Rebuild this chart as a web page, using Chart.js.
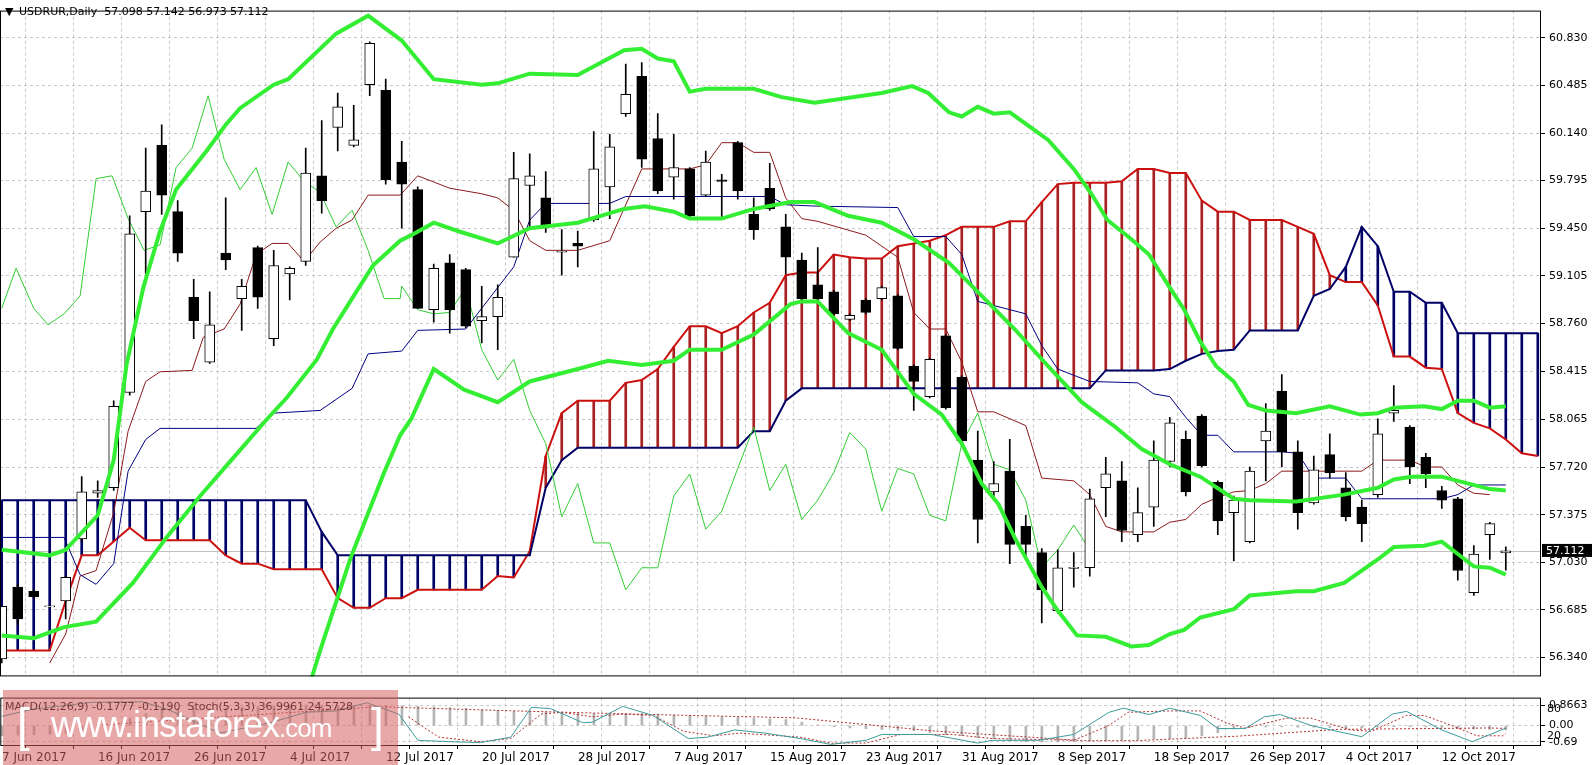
<!DOCTYPE html>
<html>
<head>
<meta charset="utf-8">
<script src="https://cdn.jsdelivr.net/npm/chart.js@4.4.1/dist/chart.umd.min.js"></script>
<style>
  body { margin: 0; background: #fff; width: 1593px; height: 765px; overflow: hidden; position: relative; font-family: "DejaVu Sans", sans-serif; }
  #main { position: absolute; left: 0; top: 0; }
  #sub { position: absolute; left: 0; top: 687px; }
  .wm { position: absolute; left: 3px; top: 690px; width: 395px; height: 75px; background: rgba(214, 96, 96, 0.55);
        color: #fff; font-family: "Liberation Sans", sans-serif; white-space: nowrap; }
  .wm span { position: absolute; }
</style>
</head>
<body>
<canvas id="main" width="1593" height="687"></canvas>
<canvas id="sub" width="1593" height="78"></canvas>
<div class="wm">
  <span style="left:14px;top:8px;font-size:46px;font-weight:100;">[</span>
  <span style="left:48px;top:14px;font-size:36px;letter-spacing:-1px;">www.instaforex<span style="position:static;font-size:26px;">.com</span></span>
  <span style="left:368px;top:8px;font-size:46px;">]</span>
</div>
<script>
/* ========================================
   USDRUR daily: candles, Bollinger, Ichimoku, MACD + Stoch
   ======================================== */

// ---- data (bar index 0 = 7 Jun 2017, one bar per trading day) ----
const dateLabels = ['7 Jun 2017', '16 Jun 2017', '26 Jun 2017', '4 Jul 2017', '12 Jul 2017', '20 Jul 2017',
    '28 Jul 2017', '7 Aug 2017', '15 Aug 2017', '23 Aug 2017', '31 Aug 2017', '8 Sep 2017',
    '18 Sep 2017', '26 Sep 2017', '4 Oct 2017', '12 Oct 2017'];   // every 6 bars

const priceTicks = [56.340, 56.685, 57.030, 57.375, 57.720, 58.065, 58.415, 58.760, 59.105, 59.450, 59.795, 60.140, 60.485, 60.830];

const opens = [56.33,56.85,56.82,56.71,56.75,57.20,57.53,57.57,58.26,59.57,60.05,59.57,58.95,58.48,59.27,58.94,59.31,58.65,59.12,59.21,
    59.83,60.18,60.05,60.49,60.45,59.93,59.73,58.86,59.20,59.15,58.78,58.81,59.24,59.76,59.67,59.28,59.34,59.51,59.75,60.28,
    60.55,60.10,59.82,59.88,59.69,59.80,60.07,59.55,59.74,59.46,59.22,59.04,58.99,58.79,58.93,58.94,58.96,58.45,58.23,58.67,
    58.37,57.77,57.54,57.69,57.29,57.10,56.68,56.99,56.99,57.57,57.62,57.23,57.43,57.76,57.92,58.09,57.61,57.39,57.18,57.91,
    58.27,57.83,57.46,57.81,57.57,57.43,57.52,58.11,58.01,57.79,57.55,57.49,56.81,57.23,57.098];
const highs = [56.71,56.87,56.83,56.72,56.93,57.65,57.62,58.20,59.54,60.03,60.20,59.65,59.08,58.99,59.67,59.08,59.32,59.29,59.17,60.03,
    60.23,60.43,60.34,60.80,60.53,60.08,59.75,59.19,59.26,59.16,59.03,59.04,60.00,59.99,59.86,59.44,59.43,60.15,60.13,60.64,
    60.65,60.28,60.13,59.89,60.01,59.84,60.08,59.67,59.92,59.55,59.27,59.31,59.00,58.83,58.94,59.03,58.97,58.46,58.51,58.68,
    58.38,57.98,57.76,57.92,57.37,57.13,57.12,57.10,57.56,57.79,57.76,57.57,57.91,58.08,57.98,58.10,57.62,57.51,57.72,58.18,
    58.39,57.91,57.80,57.96,57.68,57.48,58.07,58.31,58.02,57.82,57.58,57.50,57.15,57.32,57.142];
const lows = [56.30,56.58,56.77,56.70,56.62,57.18,57.50,57.55,58.24,59.12,59.55,59.21,58.65,58.47,59.15,58.71,58.87,58.60,58.93,59.18,
    59.56,60.01,60.04,60.41,59.77,59.45,58.87,58.77,58.69,58.73,58.62,58.57,59.24,59.45,59.42,59.11,59.17,59.50,59.52,60.26,
    59.89,59.70,59.66,59.53,59.68,59.53,59.66,59.37,59.58,59.12,58.93,58.93,58.82,58.78,58.83,58.93,58.57,58.13,58.22,58.14,
    57.90,57.17,57.48,57.02,57.05,56.59,56.66,56.85,56.93,57.36,57.18,57.18,57.29,57.72,57.51,57.72,57.23,57.04,57.17,57.62,
    57.72,57.27,57.45,57.64,57.33,57.18,57.50,58.05,57.60,57.57,57.42,56.90,56.79,57.05,56.973];
const closes = [56.71,56.62,56.78,56.71,56.92,57.54,57.55,58.16,59.41,59.72,59.69,59.27,58.78,58.75,59.22,59.03,58.95,59.18,59.16,59.85,
    59.65,60.33,60.09,60.79,59.80,59.77,58.87,59.16,58.86,58.74,58.81,58.95,59.81,59.83,59.47,59.28,59.32,59.88,60.04,60.42,
    59.95,59.72,59.89,59.54,59.93,59.79,59.72,59.44,59.59,59.24,58.94,58.94,58.83,58.82,58.84,59.02,58.58,58.34,58.50,58.15,
    57.91,57.34,57.60,57.16,57.16,56.83,56.99,56.99,57.49,57.67,57.26,57.39,57.77,58.04,57.54,57.73,57.33,57.48,57.69,57.98,
    57.83,57.39,57.70,57.68,57.36,57.31,57.96,58.13,57.72,57.67,57.48,56.97,57.09,57.31,57.112];

// Bollinger bands, read as [bar, price] vertices
const bbUpper = [[0,57.12],[3,57.08],[4,57.12],[6,57.37],[7,57.77],[7.8,58.46],[8.85,59.02],[9.9,59.43],[10.9,59.73],[12.8,60.01],
    [14,60.20],[14.9,60.32],[17,60.49],[17.9,60.53],[20.9,60.86],[22.9,60.99],[25,60.81],[27,60.53],[30,60.49],[31,60.50],
    [33,60.57],[36,60.56],[38.9,60.74],[40,60.75],[41,60.68],[42,60.66],[43,60.44],[44,60.46],[47,60.46],[48.75,60.40],
    [50.8,60.36],[55,60.43],[56.9,60.48],[57.9,60.43],[59.2,60.29],[60,60.26],[61,60.33],[62,60.28],[63,60.29],[64.2,60.19],
    [65.4,60.09],[67,59.88],[68.1,59.70],[69.1,59.51],[70.6,59.37],[71.7,59.26],[73,59.02],[73.9,58.86],[74.9,58.63],[75.9,58.45],
    [77,58.34],[77.9,58.17],[79,58.13],[80.9,58.11],[83,58.16],[84.9,58.10],[86,58.11],[87,58.15],[88.9,58.16],[90,58.14],
    [91,58.20],[92,58.20],[93,58.15],[94,58.16]];
const bbMiddle = [[0,56.50],[2,56.48],[3.9,56.56],[5.9,56.60],[8.2,56.88],[10.3,57.21],[12.4,57.51],[14.5,57.79],[16.6,58.07],[17.8,58.22],
    [19.7,58.50],[20.7,58.72],[22,58.96],[23.2,59.18],[24.9,59.36],[25.6,59.40],[27,59.49],[28.5,59.43],[31,59.34],[33,59.45],
    [36,59.49],[38.9,59.59],[40.2,59.61],[42,59.57],[43,59.52],[45,59.52],[47,59.59],[49.3,59.64],[50.8,59.64],[52.9,59.54],
    [55,59.49],[57,59.37],[59.2,59.20],[61.25,58.96],[63.3,58.72],[65.4,58.45],[67.5,58.19],[69.6,58.01],[71.25,57.85],[73,57.74],
    [74.9,57.65],[77,57.49],[78,57.48],[80.9,57.47],[83.9,57.52],[86,57.57],[87,57.63],[88.1,57.65],[90,57.65],[91,57.62],
    [93,57.56],[94,57.55]];
const bbLower = [[18.6,55.90],[19.9,56.39],[21.8,57.06],[23.9,57.68],[24.9,57.95],[25.6,58.07],[27,58.43],[28.9,58.28],[31,58.19],[33,58.34],
    [36,58.43],[37.9,58.49],[40,58.46],[42,58.49],[43,58.57],[45,58.57],[47,58.68],[49.3,58.90],[50,58.92],[51,58.92],
    [52.9,58.69],[55,58.57],[57,58.25],[58.75,58.10],[60,57.89],[61.25,57.60],[62.3,57.45],[63.3,57.21],[65,56.85],[66,56.68],
    [67.2,56.50],[69,56.49],[70.6,56.42],[71.7,56.43],[73,56.51],[73.9,56.54],[74.9,56.63],[77,56.69],[78,56.79],[80.9,56.82],
    [82,56.82],[83.9,56.88],[86,57.05],[87,57.14],[88.9,57.15],[90,57.18],[91,57.09],[92,57.00],[93,56.99],[94,56.94]];

// Ichimoku
const tenkan = [[3,56.30],[4,56.51],[4.9,56.93],[5.9,56.97],[7,57.39],[7.9,57.98],[9,58.34],[9.9,58.41],[11.9,58.42],[12.6,58.66],
    [13.9,58.72],[14.9,58.90],[15.9,59.26],[16.9,59.34],[17.9,59.34],[18.9,59.21],[19.9,59.35],[20.9,59.45],[21.9,59.51],[22.9,59.69],
    [24.9,59.69],[26,59.83],[28,59.74],[30,59.70],[31,59.67],[32,59.58],[33,59.36],[34,59.29],[36,59.29],[38,59.36],
    [40,59.88],[43,59.88],[44,59.91],[45,60.07],[46,60.07],[47,60.00],[48,60.00],[49,59.67],[50,59.52],[51,59.50],
    [54,59.40],[56,59.24],[57,58.84],[58,58.72],[59,58.72],[60,58.48],[61,58.12],[62,58.12],[64,58.02],[65,57.64],
    [67,57.62],[68,57.52],[69,57.29],[70,57.25],[72,57.25],[73,57.32],[74,57.34],[75,57.45],[76,57.50],[77,57.54],
    [78,57.55],[79,57.60],[80,57.69],[85,57.69],[86,57.77],[88,57.77],[89,57.72],[90,57.72],[91,57.59],[92,57.53],[93,57.52]];
const kijun = [[0,57.21],[3.9,57.21],[4.9,56.94],[5.9,56.87],[7,57.02],[7.9,57.69],[9,57.92],[9.9,58.00],[15.9,58.00],[16.9,58.11],
    [19.9,58.13],[21.9,58.29],[22.9,58.54],[25,58.56],[26,58.71],[29,58.72],[31,59.02],[32,59.17],[33,59.51],[34,59.63],
    [38,59.63],[39,59.68],[48,59.68],[49,59.62],[51,59.61],[56,59.60],[57,59.39],[59,59.39],[60,59.26],[61,58.92],
    [64,58.83],[65,58.60],[66,58.43],[68,58.34],[71,58.33],[72,58.25],[73,58.23],[74,58.08],[75,57.95],[76,57.95],
    [77,57.83],[80,57.83],[81,57.82],[82,57.64],[84,57.64],[85,57.49],[90,57.49],[91,57.52],[92,57.59],[94,57.59]];
const chikou = [[0,58.87],[0.9,59.16],[2,58.87],[2.9,58.75],[3.9,58.83],[4.9,58.96],[5.9,59.81],[6.9,59.83],[7.9,59.52],[8.9,59.29],
    [9.9,59.33],[10.9,59.89],[11.9,60.03],[12.9,60.41],[13.9,59.95],[14.9,59.73],[15.9,59.89],[16.9,59.55],[17.9,59.93],[18.9,59.79],
    [19.9,59.71],[20.9,59.46],[21.9,59.58],[22.9,59.29],[23.9,58.94],[24.9,58.94],[25,59.03],[26,58.86],[27,58.83],[28,58.84],
    [29,59.02],[30,58.57],[31,58.35],[32,58.50],[33,58.13],[34,57.89],[35,57.36],[36,57.60],[37,57.17],[38,57.17],
    [39,56.83],[40,56.99],[41,56.99],[42,57.51],[43,57.67],[44,57.27],[45,57.40],[46,57.71],[47,58.01],[48,57.55],
    [49,57.74],[50,57.34],[51,57.48],[52,57.68],[53,57.97],[54,57.85],[55,57.40],[56,57.71],[57,57.67],[58,57.37],
    [59,57.33],[60,57.89],[61,58.11],[62,57.74],[63,57.70],[64,57.48],[65,56.99],[66,57.12],[67,57.30],[68,57.12]];
const spanA = [56.39,56.39,56.39,56.39,56.75,57.08,57.08,57.18,57.28,57.19,57.19,57.19,57.19,57.19,57.08,57.02,57.02,56.98,56.98,56.98,
    56.98,56.77,56.70,56.70,56.77,56.77,56.83,56.83,56.83,56.83,56.83,56.93,56.92,57.11,57.80,58.11,58.20,58.20,58.20,58.33,
    58.35,58.43,58.59,58.74,58.74,58.69,58.74,58.84,58.91,59.11,59.13,59.13,59.26,59.24,59.23,59.23,59.32,59.34,59.36,59.40,
    59.46,59.46,59.46,59.50,59.50,59.64,59.77,59.78,59.78,59.78,59.79,59.88,59.88,59.85,59.85,59.65,59.57,59.57,59.51,59.51,
    59.51,59.46,59.41,59.11,59.06,59.06,58.89,58.52,58.52,58.44,58.43,58.11,58.04,58.00,57.92,57.82,57.80];
const spanB = [57.48,57.48,57.48,57.48,57.48,57.48,57.48,57.48,57.48,57.48,57.48,57.48,57.48,57.48,57.48,57.48,57.48,57.48,57.48,57.48,
    57.25,57.08,57.08,57.08,57.08,57.08,57.08,57.08,57.08,57.08,57.08,57.08,57.08,57.08,57.57,57.77,57.86,57.86,57.86,57.86,
    57.86,57.86,57.86,57.86,57.86,57.86,57.86,57.98,57.98,58.20,58.29,58.29,58.29,58.29,58.29,58.29,58.29,58.29,58.29,58.29,
    58.29,58.29,58.29,58.29,58.29,58.29,58.29,58.29,58.29,58.42,58.42,58.42,58.42,58.43,58.49,58.54,58.56,58.57,58.71,58.71,
    58.71,58.71,58.96,59.01,59.17,59.46,59.32,58.99,58.99,58.91,58.91,58.69,58.69,58.69,58.69,58.69,58.69];

// MACD(12,26,9) and Stoch(5,3,3)
const macdMain = [-0.43,-0.41,-0.38,-0.36,-0.32,-0.17,-0.07,0.07,0.32,0.51,0.65,0.72,0.72,0.72,0.75,0.77,0.80,0.83,0.84,0.87,
    0.86,0.86,0.86,0.86,0.85,0.84,0.82,0.80,0.77,0.73,0.68,0.65,0.62,0.61,0.58,0.55,0.54,0.52,0.51,0.51,
    0.51,0.49,0.46,0.43,0.41,0.38,0.35,0.32,0.29,0.26,0.15,0.03,-0.04,-0.10,-0.13,-0.16,-0.19,-0.22,-0.29,-0.38,
    -0.43,-0.51,-0.55,-0.65,-0.68,-0.69,-0.69,-0.68,-0.66,-0.64,-0.62,-0.60,-0.57,-0.55,-0.52,-0.43,-0.30,-0.14,-0.08,-0.06,
    -0.06,-0.07,-0.07,-0.08,-0.09,-0.09,-0.07,-0.05,-0.05,-0.06,-0.08,-0.11,-0.14,-0.16,-0.1777];
const macdSignal = [[6,0.02],[23.5,0.80],[31.8,0.63],[40,0.48],[49.6,0.33],[58.1,-0.22],[67.6,-0.64],[70.8,-0.64],[77.2,-0.45],
    [83.5,-0.16],[93,-0.10],[94,-0.119]];
const stochMain = [[0,63],[1.8,78],[5.6,94],[8.8,95],[10.4,78],[13.6,26],[16.8,49],[19,72],[20.9,75],[22.8,93],
    [24.8,68],[26,10],[28,7],[29.9,5],[31.8,17],[33.1,83],[34.3,80],[36.3,49],[36.9,50],[38.8,85],
    [40.7,65],[42.9,14],[44.1,17],[45.8,33],[47.7,26],[49.9,14],[51.8,1],[54,10],[55,23],[58.1,23],
    [61,4],[61.9,10],[64.8,10],[67,23],[69.2,72],[70.1,81],[71.7,67],[73,81],[74.9,65],[76,36],
    [77.7,36],[78.9,62],[79.9,67],[81.8,43],[83.7,28],[85,18],[86.9,68],[87.8,74],[90,33],[91.9,7],[94,37]];
const stochSignal = [[25.4,62],[27.3,17],[29.9,7],[31.8,14],[33.7,68],[35,72],[36.9,62],[38.8,68],[40.7,65],[42.6,30],
    [44.5,20],[46.1,26],[49.9,17],[51.8,4],[54,4],[56.2,23],[59.4,23],[61.9,14],[64.8,12],[67,10],
    [69.2,43],[70.4,72],[73,75],[74.9,75],[76.5,49],[77.7,37],[80.3,59],[81.8,59],[84.3,33],[85.6,30],
    [87.8,65],[88.9,65],[90.6,43],[92.2,20],[93.8,20],[94,24.57]];

const lastPrice = 57.112;

// ---- helpers ----
const X_MIN = -0.106, X_MAX = 96.2;
const FONT = { family: 'DejaVu Sans', size: 11 };
const pts = arr => arr.map(p => ({ x: p[0], y: p[1] }));
const idx = arr => arr.map((v, i) => i);

function lineSet(data, color, width, order, dash) {
    return { type: 'line', data: pts(data), borderColor: color, borderWidth: width, pointRadius: 0,
        borderDash: dash || [], tension: 0, order: order, clip: true };
}

const frame = {
    id: 'frame',
    afterDraw(chart) {
        const { ctx, chartArea: a } = chart;
        ctx.save();
        ctx.strokeStyle = '#000';
        ctx.lineWidth = 1;
        ctx.strokeRect(a.left + 0.5, a.top + 0.5, a.right - a.left - 1, a.bottom - a.top - 1);
        ctx.restore();
    }
};

// ---- main panel ----
const bodies = opens.map((o, i) => {
    let lo = Math.min(o, closes[i]), hi = Math.max(o, closes[i]);
    if (hi - lo < 0.008) { lo -= 0.004; hi += 0.004; }
    return { x: i, y: [lo, hi] };
});
const up = opens.map((o, i) => closes[i] >= o);

const mainDecor = {
    id: 'mainDecor',
    beforeDatasetsDraw(chart) {
        const { ctx, chartArea: a, scales } = chart;
        const y = Math.round(scales.y.getPixelForValue(lastPrice)) + 0.5;
        ctx.save();
        ctx.strokeStyle = '#c0c0c0';
        ctx.beginPath(); ctx.moveTo(a.left, y); ctx.lineTo(a.right, y); ctx.stroke();
        ctx.restore();
    },
    afterDraw(chart) {
        const { ctx, chartArea: a, scales } = chart;
        const y = scales.y.getPixelForValue(lastPrice);
        ctx.save();
        ctx.fillStyle = '#000';
        ctx.fillRect(a.right + 1, y - 7, 50, 13);
        ctx.fillStyle = '#fff';
        ctx.font = '11px "DejaVu Sans"';
        ctx.textBaseline = 'middle';
        ctx.fillText(lastPrice.toFixed(3), a.right + 5, y);
        ctx.fillStyle = '#000';
        ctx.fillText('\u25BC', 5, 12);
        ctx.fillText('USDRUR,Daily  57.098 57.142 56.973 57.112', 19, 12);
        ctx.restore();
    }
};

new Chart(document.getElementById('main'), {
    type: 'bar',
    data: {
        datasets: [
            { data: spanA.map((a, i) => ({ x: i, y: [spanB[i], a] })), grouped: false, barThickness: 2, order: 20,
              backgroundColor: spanA.map((a, i) => a >= spanB[i] ? '#a82020' : '#000066') },
            { type: 'line', data: spanA.map((v, i) => ({ x: i, y: v })), borderColor: '#cc1010', borderWidth: 2, pointRadius: 0, order: 19 },
            { type: 'line', data: spanB.map((v, i) => ({ x: i, y: v })), borderColor: '#000066', borderWidth: 2, pointRadius: 0, order: 18 },
            lineSet(chikou, '#33cc33', 1, 17),
            lineSet(tenkan, '#8b1a1a', 1, 16),
            lineSet(kijun, '#000080', 1, 15),
            { data: opens.map((o, i) => ({ x: i, y: [lows[i], highs[i]] })), grouped: false, barThickness: 1,
              backgroundColor: '#000', order: 12 },
            { data: bodies, grouped: false, barThickness: 10, borderWidth: 1, borderColor: '#000', borderSkipped: false,
              backgroundColor: up.map(u => u ? '#fff' : '#000'), order: 11 },
            lineSet(bbUpper, '#33ee33', 4, 5),
            lineSet(bbMiddle, '#33ee33', 4, 5),
            lineSet(bbLower, '#33ee33', 4, 5)
        ]
    },
    options: {
        responsive: false,
        animation: false,
        devicePixelRatio: 1,
        layout: { padding: { top: 1, bottom: 1, left: 0, right: 0 } },
        plugins: { legend: { display: false }, tooltip: { enabled: false } },
        scales: {
            x: {
                type: 'linear', min: X_MIN, max: X_MAX, offset: false,
                afterBuildTicks: s => { s.ticks = []; for (let i = 0; i <= 96; i += 3) s.ticks.push({ value: i }); },
                ticks: { display: false },
                grid: { color: '#c8c8c8', drawTicks: false },
                border: { display: false, dash: [3, 3] }
            },
            y: {
                position: 'right', min: 56.203, max: 61.027,
                afterBuildTicks: s => { s.ticks = priceTicks.map(v => ({ value: v })); },
                afterFit: s => { s.width = 52; },
                ticks: { color: '#000', font: FONT, padding: 4, callback: v => v.toFixed(3) },
                grid: { color: '#c8c8c8', tickColor: '#000', tickLength: 4 },
                border: { display: false, dash: [3, 3] }
            }
        }
    },
    plugins: [mainDecor, frame]
});

// ---- lower panel ----
const subDecor = {
    id: 'subDecor',
    afterDatasetsDraw(chart) {
        const { ctx, chartArea: a, scales } = chart;
        ctx.save();
        ctx.font = '11px "DejaVu Sans"';
        ctx.fillStyle = '#000';
        ctx.textBaseline = 'middle';
        ctx.fillText('MACD(12,26,9) -0.1777 -0.1190  Stoch(5,3,3) 36.9961 24.5728', 5, a.top + 10);
        ctx.fillText('80', a.right + 6, scales.yS.getPixelForValue(80));
        ctx.fillText('20', a.right + 6, scales.yS.getPixelForValue(20));
        ctx.restore();
    }
};

new Chart(document.getElementById('sub'), {
    type: 'bar',
    data: {
        datasets: [
            { data: macdMain.map((v, i) => ({ x: i, y: v })), yAxisID: 'yM', grouped: false, barThickness: 2,
              backgroundColor: '#b4b4b4', order: 10 },
            Object.assign(lineSet(macdSignal, '#b03030', 1, 5, [2, 2]), { yAxisID: 'yM' }),
            Object.assign(lineSet(stochMain, '#3c9c9c', 1, 3), { yAxisID: 'yS' }),
            Object.assign(lineSet(stochSignal, '#b03030', 1, 4, [2, 2]), { yAxisID: 'yS' })
        ]
    },
    options: {
        responsive: false,
        animation: false,
        devicePixelRatio: 1,
        layout: { padding: { top: 2, bottom: 0, left: 0, right: 0 } },
        plugins: { legend: { display: false }, tooltip: { enabled: false } },
        scales: {
            x: {
                type: 'linear', min: X_MIN, max: X_MAX, offset: false,
                afterBuildTicks: s => { s.ticks = []; for (let i = 0; i <= 96; i += 3) s.ticks.push({ value: i }); },
                afterFit: s => { s.height = 19; },
                ticks: { color: '#000', font: { family: 'DejaVu Sans', size: 12 }, align: 'start', padding: 2,
                         maxRotation: 0, autoSkip: false,
                         callback: v => (v % 6 === 0 && dateLabels[v / 6]) ? dateLabels[v / 6] : '' },
                grid: { color: '#c8c8c8', tickColor: '#000', tickLength: 3 },
                border: { display: false, dash: [3, 3] }
            },
            yM: {
                position: 'right', min: -0.866, max: 1.19,
                afterBuildTicks: s => { s.ticks = [-0.69, 0, 0.8663].map(v => ({ value: v })); },
                afterFit: s => { s.width = 52; },
                ticks: { color: '#000', font: FONT, padding: 4, callback: v => v === 0 ? '0.00' : String(v) },
                grid: { color: '#c8c8c8', tickColor: '#000', tickLength: 4 },
                border: { display: false, dash: [3, 3] }
            },
            yS: { display: false, min: -2.5, max: 104.4 }
        }
    },
    plugins: [subDecor, frame]
});
</script>
</body>
</html>
